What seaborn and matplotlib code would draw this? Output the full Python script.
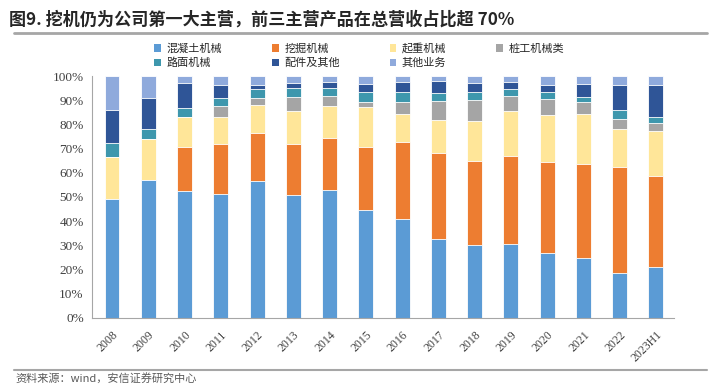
import numpy as np
import pandas as pd
import seaborn as sns
import matplotlib.pyplot as plt
from matplotlib.patches import Patch
from matplotlib.ticker import PercentFormatter

years = ['2008', '2009', '2010', '2011', '2012', '2013', '2014', '2015',
         '2016', '2017', '2018', '2019', '2020', '2021', '2022', '2023H1']

# 各业务收入占比 (%)
concrete = [49.2, 57.2, 52.4, 51.2, 56.5, 50.9, 52.7, 44.6, 40.7, 32.7, 30.3, 30.5, 27.0, 24.8, 18.6, 21.0]
excavator = [0.0, 0.0, 18.3, 20.5, 20.1, 21.0, 21.7, 26.1, 32.1, 35.5, 34.5, 36.5, 37.4, 38.9, 44.0, 37.7]
crane = [17.5, 16.7, 12.2, 11.2, 11.3, 13.7, 13.4, 16.6, 11.5, 13.8, 16.6, 18.4, 19.4, 20.5, 15.5, 18.5]
pile = [0.0, 0.0, 0.0, 4.7, 3.0, 5.7, 3.9, 2.0, 5.1, 7.7, 8.6, 6.5, 6.7, 4.9, 4.2, 3.4]
road = [5.7, 4.1, 3.9, 3.2, 3.6, 3.9, 3.5, 4.2, 3.8, 3.4, 3.5, 2.7, 2.9, 2.4, 3.7, 2.3]
parts = [13.7, 13.1, 10.2, 5.6, 1.6, 1.8, 2.3, 3.2, 4.2, 4.8, 3.5, 2.8, 3.0, 5.2, 10.4, 13.5]
other = [13.9, 8.9, 3.0, 3.6, 3.9, 3.0, 2.5, 3.3, 2.6, 2.1, 3.0, 2.6, 3.6, 3.3, 3.6, 3.6]

names = ['混凝土机械', '挖掘机械', '起重机械', '桩工机械类', '路面机械', '配件及其他', '其他业务']
colors = ['#5B9BD5', '#ED7D31', '#FFE699', '#A5A5A5', '#3E97AD', '#2F5597', '#8FAADC']

df = pd.DataFrame({'年份': years})
for n, v in zip(names, [concrete, excavator, crane, pile, road, parts, other]):
    df[n] = v
# 归一化到 100%
df[names] = df[names].div(df[names].sum(axis=1), axis=0) * 100
cum = df[names].cumsum(axis=1)

sns.set_style('white')
plt.rcParams['font.family'] = ['Noto Sans CJK SC', 'DejaVu Sans']

fig = plt.figure(figsize=(7.14, 3.84), dpi=100)
ax = fig.add_axes([0.129, 0.172, 0.815, 0.630])

# 从最上层往下画累计值，实现堆叠
for n, c in zip(names[::-1], colors[::-1]):
    sns.barplot(x=df['年份'], y=cum[n], color=c, width=0.41, ax=ax,
                edgecolor='white', linewidth=0.6, saturation=1)

ax.set_xlim(-0.55, 15.5)
ax.set_ylim(0, 100)
ax.set_yticks(np.arange(0, 101, 10))
ax.yaxis.set_major_formatter(PercentFormatter(decimals=0))
ax.set_xlabel('')
ax.set_ylabel('')
for s in ['top', 'right']:
    ax.spines[s].set_visible(False)
for s in ['left', 'bottom']:
    ax.spines[s].set_color('#A6A6A6')
    ax.spines[s].set_linewidth(0.8)

ax.set_xticks(np.arange(len(years)))
ax.set_xticklabels(years, rotation=45, ha='right', rotation_mode='anchor',
                   family='Liberation Serif', fontsize=8.5, color='#404040')
ax.set_xticks(np.arange(len(years) + 1) - 0.5, minor=True)
ax.tick_params(axis='x', which='major', length=0, pad=8)
ax.tick_params(axis='x', which='minor', length=4, color='#A6A6A6', direction='out')
ax.tick_params(axis='y', length=4, color='#A6A6A6', direction='out', pad=2)
for lab in ax.get_yticklabels():
    lab.set_family('Liberation Serif')
    lab.set_fontsize(9.5)
    lab.set_color('#404040')

# 图例按行排列
order = [0, 4, 1, 5, 2, 6, 3]
handles = [Patch(facecolor=colors[i], edgecolor='none') for i in order]
fig.legend(handles, [names[i] for i in order], ncol=4, loc='center',
           bbox_to_anchor=(0.503, 0.855), frameon=False, fontsize=8,
           handlelength=0.6, handleheight=0.6, handletextpad=0.5,
           columnspacing=4.5, labelspacing=0.35)

fig.text(0.012, 0.948, '图9. 挖机仍为公司第一大主营，前三主营产品在总营收占比超 70%',
         fontsize=12.3, fontweight='bold', color='#262626', va='center')
fig.add_artist(plt.Line2D([0.02, 0.99], [0.915, 0.915], color='#A6A6A6', lw=2))
fig.add_artist(plt.Line2D([0.02, 0.99], [0.036, 0.036], color='#A6A6A6', lw=1.5))
fig.text(0.022, 0.016, '资料来源：wind，安信证券研究中心', fontsize=8,
         color='#595959', va='center', style='italic')

fig.savefig('out.png', dpi=100)
